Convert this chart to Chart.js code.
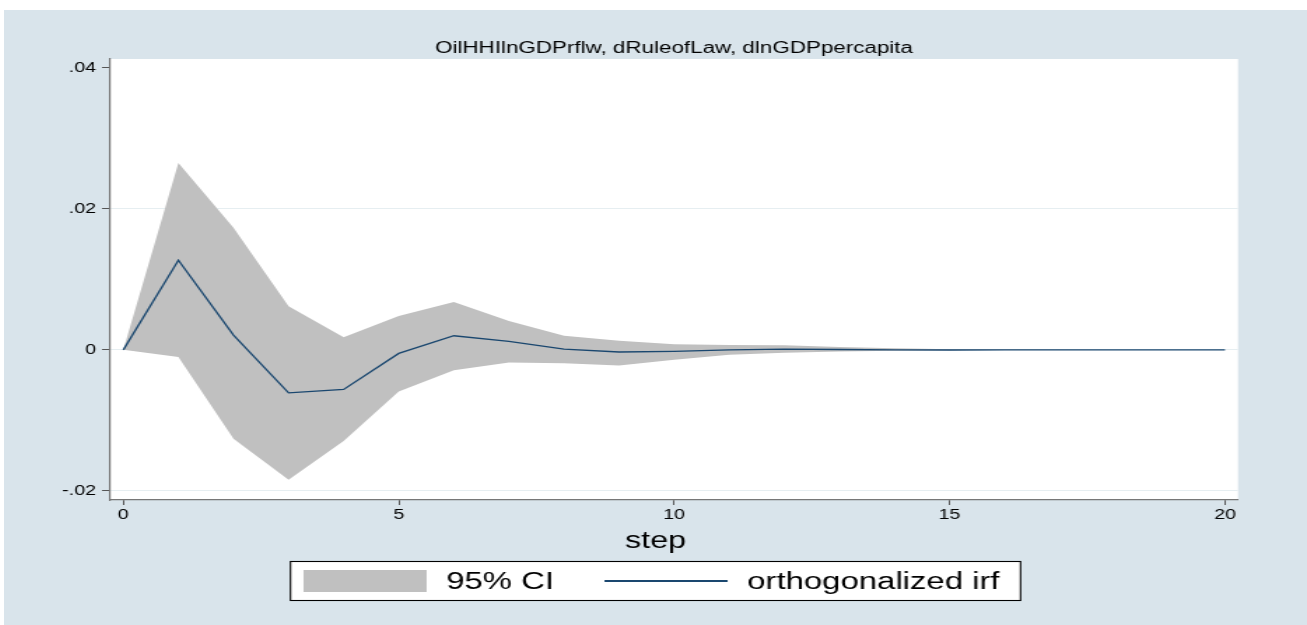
<!DOCTYPE html>
<html>
<head>
<meta charset="utf-8">
<script src="https://cdn.jsdelivr.net/npm/chart.js@4/dist/chart.umd.min.js"></script>
<style>
  html, body { margin: 0; padding: 0; background: #ffffff; }
  body { width: 1307px; height: 625px; overflow: hidden; position: relative; }
  #irf { position: absolute; left: 4px; top: 10px; }
</style>
</head>
<body>
<!-- drawn on a 931-unit-wide bitmap and widened to 1303px -->
<canvas id="irf" width="931" height="615" style="width:1303px;height:615px;"></canvas>
<script>
// Impulse response: OilHHIlnGDPrflw -> dRuleofLaw -> dlnGDPpercapita
const steps   = [0, 1, 2, 3, 4, 5, 6, 7, 8, 9, 10, 11, 12, 13, 14, 15, 16, 17, 18, 19, 20];
const irf     = [0, 0.0127, 0.0021, -0.0061, -0.0056, -0.0005, 0.0020, 0.0012, 0.0001, -0.0003, -0.0002,
                 0.0000, 0.0001, 0.00005, 0.0000, -0.00002, 0, 0, 0, 0, 0];
const ciUpper = [0, 0.0265, 0.0173, 0.0062, 0.0018, 0.0048, 0.0068, 0.0041, 0.0020, 0.0013, 0.0008,
                 0.0007, 0.00066, 0.0004, 0.00022, 0.0001, 0.00004, 0.00002, 0.00001, 0.00001, 0];
const ciLower = [0, -0.0010, -0.0126, -0.0184, -0.0129, -0.0059, -0.0029, -0.0018, -0.0019, -0.0022, -0.0014,
                 -0.0007, -0.0004, -0.00024, -0.00012, -0.00006, -0.00003, -0.00001, 0, 0, 0];

const xTicks      = [0, 5, 10, 15, 20];
const xTickLabels = ['0', '5', '10', '15', '20'];
const yTicks      = [-0.02, 0, 0.02, 0.04];
const yTickLabels = ['-.02', '0', '.02', '.04'];

const chartTitle = 'OilHHIlnGDPrflw, dRuleofLaw, dlnGDPpercapita';
const xAxisTitle = 'step';
const ciLabel    = '95% CI';
const irfLabel   = 'orthogonalized irf';

// axis ranges
const xMin = -0.2414, xMax = 20.236;
const yMin = -0.02128, yMax = 0.04123;

const FONT = '"Liberation Sans", Arial, sans-serif';
const NAVY = '#1a476f';
const BAND = '#c0c0c0';

const xy = (vals) => vals.map((v, i) => ({ x: steps[i], y: v }));

// graph region and plot region fills
const regionColors = {
  id: 'regionColors',
  beforeDraw(chart, args, opts) {
    const { ctx, chartArea: a } = chart;
    ctx.save();
    ctx.fillStyle = opts.outer;
    ctx.fillRect(0, 0, chart.width, chart.height);
    ctx.fillStyle = opts.inner;
    ctx.fillRect(a.left, a.top, a.right - a.left, a.bottom - a.top);
    ctx.restore();
  }
};

// x-axis caption and boxed key, centred on the whole graph
const stepAndKey = {
  id: 'stepAndKey',
  afterDraw(chart, args, opts) {
    const { ctx } = chart;
    const cx = chart.width / 2;
    ctx.save();
    ctx.fillStyle = '#000';
    ctx.textAlign = 'left';
    ctx.textBaseline = 'alphabetic';

    ctx.font = '23px ' + FONT;
    const sw0 = ctx.measureText(opts.caption).width;
    ctx.fillText(opts.caption, cx - sw0 / 2, 538);

    const band = chart.data.datasets[opts.bandIndex];
    const line = chart.data.datasets[opts.lineIndex];
    ctx.font = '23.5px ' + FONT;
    const w1 = ctx.measureText(band.label).width;
    const w2 = ctx.measureText(line.label).width;
    const padL = 9.3, swW = 88, gapT = 14, gapI = 36, padR = 15;
    const total = padL + swW + gapT + w1 + gapI + swW + gapT + w2 + padR;
    const x0 = cx - total / 2;
    const top = 551, bottom = 591;

    ctx.fillStyle = '#ffffff';
    ctx.fillRect(x0, top, total, bottom - top);
    ctx.strokeStyle = '#000';
    ctx.lineWidth = 1.1;
    ctx.strokeRect(x0, top + 0.5, total, bottom - top - 1);

    let x = x0 + padL;
    ctx.fillStyle = band.backgroundColor;
    ctx.fillRect(x, 560, swW, 22);
    x += swW + gapT;
    ctx.fillStyle = '#000';
    ctx.fillText(band.label, x, 579);
    x += w1 + gapI;

    ctx.strokeStyle = line.borderColor;
    ctx.lineWidth = 1.8;
    ctx.beginPath();
    ctx.moveTo(x, 571);
    ctx.lineTo(x + swW, 571);
    ctx.stroke();
    x += swW + gapT;
    ctx.fillStyle = '#000';
    ctx.fillText(line.label, x, 579);
    ctx.restore();
  }
};

new Chart(document.getElementById('irf'), {
  type: 'line',
  data: {
    datasets: [
      {
        label: irfLabel,
        data: xy(irf),
        borderColor: NAVY,
        borderWidth: 1.3,
        pointRadius: 0,
        fill: false,
        tension: 0,
        order: 0
      },
      {
        label: ciLabel,
        data: xy(ciUpper),
        borderColor: 'rgba(0,0,0,0)',
        borderWidth: 0,
        backgroundColor: BAND,
        pointRadius: 0,
        fill: '+1',
        tension: 0,
        order: 1
      },
      {
        label: 'lower bound',
        data: xy(ciLower),
        borderColor: 'rgba(0,0,0,0)',
        borderWidth: 0,
        pointRadius: 0,
        fill: false,
        tension: 0,
        order: 2
      }
    ]
  },
  options: {
    responsive: false,
    animation: false,
    devicePixelRatio: 1,
    layout: { padding: { left: 0, right: 49.3, top: 0, bottom: 0 } },
    plugins: {
      legend: { display: false },
      tooltip: { enabled: false },
      title: {
        display: true,
        text: chartTitle,
        fullSize: false,
        color: '#000',
        font: { family: FONT, size: 16, weight: 'normal' },
        padding: { top: 28.9, bottom: 0.9 }
      },
      regionColors: { outer: '#d9e4eb', inner: '#ffffff' },
      stepAndKey: { caption: xAxisTitle, bandIndex: 1, lineIndex: 0 }
    },
    scales: {
      x: {
        type: 'linear',
        min: xMin,
        max: xMax,
        afterBuildTicks: (s) => { s.ticks = xTicks.map((v) => ({ value: v })); },
        afterFit: (s) => { s.height = 125; },
        ticks: {
          callback: (v, i) => xTickLabels[i],
          font: { family: FONT, size: 14 },
          color: '#000',
          padding: 2.2,
          maxRotation: 0,
          autoSkip: false
        },
        grid: { drawOnChartArea: false, tickLength: 5, tickColor: '#555', tickWidth: 1 },
        border: { color: '#777', width: 1.2 }
      },
      y: {
        type: 'linear',
        min: yMin,
        max: yMax,
        afterBuildTicks: (s) => { s.ticks = yTicks.map((v) => ({ value: v })); },
        afterFit: (s) => { s.width = 75.74; },
        ticks: {
          callback: (v, i) => yTickLabels[i],
          font: { family: FONT, size: 14 },
          color: '#000',
          padding: 4.3
        },
        grid: {
          color: (c) => (c.tick && c.tick.value === 0.04 ? 'rgba(0,0,0,0)' : '#e6eef1'),
          lineWidth: 1,
          tickLength: 5.7,
          tickColor: '#555',
          tickWidth: 1
        },
        border: { color: '#777', width: 1.2 }
      }
    }
  },
  plugins: [regionColors, stepAndKey]
});
</script>
</body>
</html>
